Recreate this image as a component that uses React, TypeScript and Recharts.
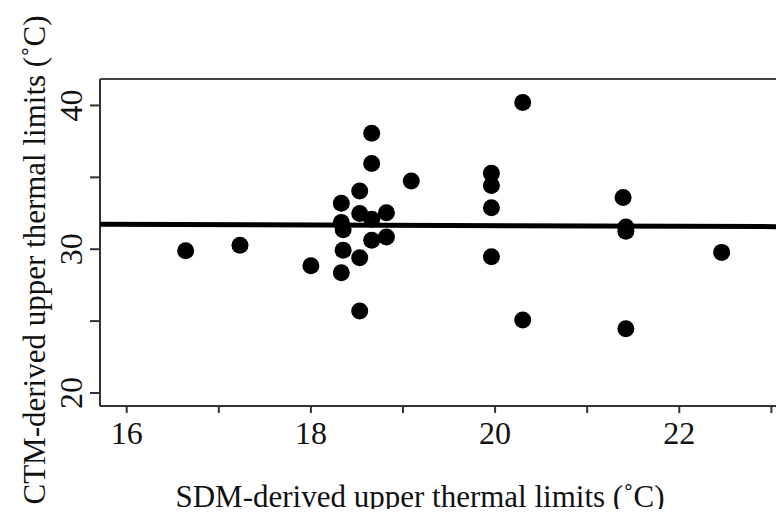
import React from "react";
import {
  ScatterChart,
  Scatter,
  XAxis,
  YAxis,
  ReferenceLine,
  Label,
} from "recharts";

// SDM-derived (x) vs CTM-derived (y) upper thermal limits
const sdmValues = [
  16.64, 17.23, 18.0, 18.33, 18.33, 18.35, 18.35, 18.33, 18.53, 18.53, 18.53,
  18.53, 18.66, 18.66, 18.66, 18.66, 18.82, 18.82, 19.09, 19.96, 19.96, 19.96,
  19.96, 20.3, 20.3, 21.39, 21.42, 21.42, 21.42, 22.46,
];
const ctmValues = [
  29.9, 30.27, 28.85, 33.2, 31.85, 31.35, 29.92, 28.36, 34.05, 32.48, 29.4,
  25.7, 38.06, 35.96, 32.09, 30.62, 32.53, 30.85, 34.75, 35.29, 34.43, 32.89,
  29.48, 40.21, 25.07, 33.6, 31.55, 31.25, 24.46, 29.78,
];

// fitted line end points
const fitX = [15.71, 23.137];
const fitY = [31.735, 31.568];

const xTicks = [16, 17, 18, 19, 20, 21, 22, 23];
const xLabelled = [16, 18, 20, 22];
const yTicks = [20, 25, 30, 35, 40];
const yLabelled = [20, 30, 40];

const xDomain = [15.71, 23.137];
const yDomain = [19.094, 41.84];

const points = sdmValues.map((x, i) => ({ x, y: ctmValues[i] }));
const fitLine = fitX.map((x, i) => ({ x, y: fitY[i] }));

const FONT = '"Liberation Serif", "Times New Roman", serif';
const textStyle = { fontFamily: FONT, fontSize: 32, fill: "#111" };
const titleStyle = { fontFamily: FONT, fontSize: 31, fill: "#111" };

const XTick = (props: any) => {
  const { x, y, payload } = props;
  if (!xLabelled.includes(payload.value)) return null;
  return (
    <text x={x} y={y + 29} textAnchor="middle" style={textStyle}>
      {payload.value}
    </text>
  );
};

const YTick = (props: any) => {
  const { x, y, payload } = props;
  if (!yLabelled.includes(payload.value)) return null;
  return (
    <text transform={`translate(${x - 6},${y}) rotate(-90)`} textAnchor="middle" style={textStyle}>
      {payload.value}
    </text>
  );
};

const Dot = (props: any) => <circle cx={props.cx} cy={props.cy} r={8.5} fill="#000" />;

export default function App() {
  return (
    <div style={{ margin: "-8px", width: 784, height: 517, overflow: "hidden", background: "#fff" }}>
      <ScatterChart width={784} height={517} margin={{ top: 79, right: 0, bottom: 0, left: 0 }}>
        <XAxis
          type="number"
          dataKey="x"
          domain={xDomain}
          ticks={xTicks}
          tick={<XTick />}
          tickSize={7}
          height={111}
          allowDataOverflow
          axisLine={{ stroke: "#333", strokeWidth: 2 }}
          tickLine={{ stroke: "#333", strokeWidth: 2 }}
        >
          <Label
            content={() => (
              <text x={420} y={507} textAnchor="middle" style={titleStyle}>
                SDM-derived upper thermal limits (˚C)
              </text>
            )}
          />
        </XAxis>
        <YAxis
          type="number"
          dataKey="y"
          domain={yDomain}
          ticks={yTicks}
          tick={<YTick />}
          tickSize={10}
          width={100}
          allowDataOverflow
          axisLine={{ stroke: "#333", strokeWidth: 2 }}
          tickLine={{ stroke: "#333", strokeWidth: 2 }}
        >
          <Label
            content={() => (
              <text transform="translate(45,260) rotate(-90)" textAnchor="middle" style={titleStyle}>
                CTM-derived upper thermal limits (˚C)
              </text>
            )}
          />
        </YAxis>
        <ReferenceLine y={yDomain[1]} stroke="#444" strokeWidth={2} />
        <Scatter
          data={fitLine}
          line={{ stroke: "#000", strokeWidth: 5 }}
          shape={() => null}
          isAnimationActive={false}
        />
        <Scatter data={points} shape={<Dot />} isAnimationActive={false} />
      </ScatterChart>
    </div>
  );
}
